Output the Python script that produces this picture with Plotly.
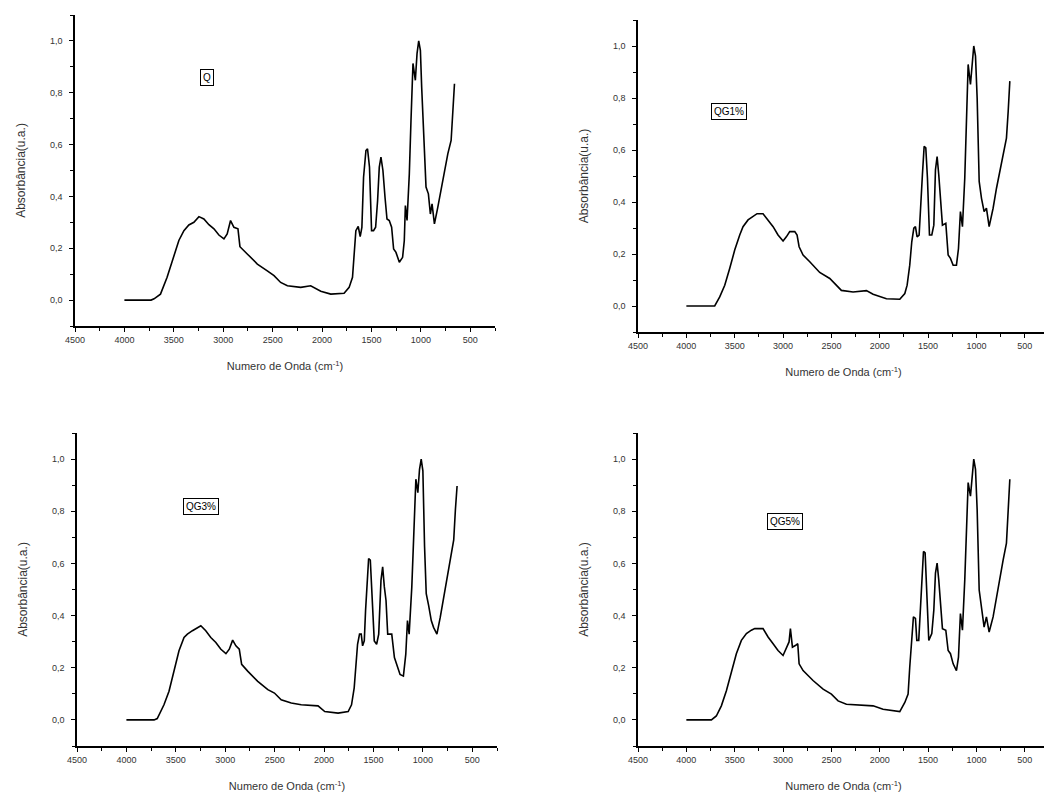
import plotly.graph_objects as go

# ---------------- data ----------------
x_ticks = [4500, 4000, 3500, 3000, 2500, 2000, 1500, 1000, 500]
x_ticktext = ["4500", "4000", "3500", "3000", "2500", "2000", "1500", "1000", "500"]
y_ticks = [0.0, 0.2, 0.4, 0.6, 0.8, 1.0]
y_ticktext = ["0,0", "0,2", "0,4", "0,6", "0,8", "1,0"]

labels = ["Q", "QG1%", "QG3%", "QG5%"]

wn_q = [4000, 3730, 3700, 3635, 3568, 3500, 3449, 3398, 3348, 3297, 3246, 3196, 3145, 3094, 3044,
        2993, 2960, 2926, 2892, 2851, 2831, 2757, 2655, 2554, 2486, 2419, 2351, 2216, 2115, 2013,
        1912, 1777, 1726, 1692, 1675, 1658, 1634, 1614, 1597, 1580, 1556, 1540, 1520, 1499, 1479,
        1458, 1438, 1421, 1404, 1384, 1363, 1343, 1320, 1296, 1276, 1252, 1218, 1185, 1168, 1157,
        1140, 1117, 1100, 1080, 1056, 1039, 1022, 1005, 992, 971, 948, 924, 904, 887, 863,
        829, 795, 761, 727, 694, 677, 660]
abs_q = [0, 0, 0.005, 0.023, 0.088, 0.165, 0.23, 0.268, 0.29, 0.30, 0.322, 0.313, 0.291, 0.275, 0.251,
         0.236, 0.255, 0.307, 0.281, 0.275, 0.206, 0.178, 0.139, 0.113, 0.094, 0.068, 0.055, 0.049, 0.055, 0.034,
         0.023, 0.026, 0.049, 0.088, 0.178, 0.268, 0.284, 0.245, 0.28, 0.474, 0.577, 0.584, 0.513, 0.268, 0.268,
         0.281, 0.384, 0.513, 0.552, 0.50, 0.397, 0.313, 0.307, 0.281, 0.197, 0.184, 0.146, 0.165, 0.229, 0.365,
         0.307, 0.487, 0.694, 0.913, 0.848, 0.951, 1.0, 0.964, 0.822, 0.642, 0.436, 0.41, 0.332, 0.371, 0.294,
         0.358, 0.429, 0.50, 0.565, 0.616, 0.732, 0.835]

wn_g1 = [4000, 3707, 3655, 3603, 3552, 3500, 3448, 3414, 3362, 3310, 3269, 3207, 3155, 3103, 3052,
         3000, 2966, 2931, 2879, 2855, 2834, 2793, 2724, 2621, 2517, 2466, 2397, 2276, 2138, 2069,
         1931, 1793, 1741, 1717, 1690, 1669, 1648, 1631, 1614, 1593, 1576, 1559, 1541, 1524, 1507,
         1486, 1462, 1441, 1424, 1407, 1390, 1372, 1352, 1317, 1293, 1269, 1241, 1207, 1186, 1166,
         1145, 1121, 1103, 1086, 1062, 1045, 1028, 1010, 993, 972, 948, 921, 897, 869, 828,
         793, 759, 724, 690, 672, 655]
abs_g1 = [0, 0, 0.035, 0.08, 0.144, 0.215, 0.273, 0.305, 0.331, 0.344, 0.355, 0.355, 0.331, 0.305, 0.273,
          0.25, 0.266, 0.286, 0.286, 0.273, 0.228, 0.196, 0.17, 0.129, 0.106, 0.086, 0.06, 0.054, 0.059, 0.045,
          0.028, 0.026, 0.048, 0.08, 0.157, 0.247, 0.299, 0.305, 0.266, 0.273, 0.369, 0.505, 0.614, 0.608, 0.492,
          0.273, 0.273, 0.311, 0.524, 0.575, 0.505, 0.414, 0.311, 0.318, 0.196, 0.183, 0.157, 0.157, 0.221, 0.363,
          0.305, 0.492, 0.71, 0.929, 0.852, 0.948, 1.0, 0.961, 0.80, 0.479, 0.414, 0.363, 0.376, 0.305, 0.376,
          0.453, 0.517, 0.582, 0.646, 0.749, 0.865]

wn_g3 = [4000, 3720, 3688, 3620, 3569, 3519, 3468, 3417, 3383, 3332, 3281, 3247, 3197, 3146, 3095,
         3044, 2993, 2959, 2925, 2892, 2858, 2834, 2773, 2671, 2569, 2502, 2434, 2332, 2231, 2061,
         1993, 1858, 1756, 1722, 1695, 1678, 1661, 1641, 1624, 1610, 1593, 1580, 1563, 1549, 1532,
         1512, 1492, 1468, 1447, 1424, 1407, 1390, 1373, 1356, 1315, 1288, 1264, 1231, 1197, 1173,
         1156, 1139, 1112, 1092, 1071, 1051, 1034, 1017, 1000, 983, 966, 942, 915, 892, 858,
         824, 790, 756, 722, 688, 671, 654]
abs_g3 = [0, 0, 0.005, 0.058, 0.11, 0.187, 0.265, 0.316, 0.329, 0.342, 0.355, 0.361, 0.342, 0.316, 0.297,
          0.271, 0.254, 0.271, 0.306, 0.284, 0.271, 0.213, 0.187, 0.148, 0.116, 0.103, 0.077, 0.065, 0.058, 0.054,
          0.032, 0.026, 0.032, 0.058, 0.123, 0.2, 0.29, 0.329, 0.329, 0.284, 0.303, 0.419, 0.548, 0.619, 0.613,
          0.458, 0.303, 0.29, 0.329, 0.535, 0.587, 0.51, 0.458, 0.329, 0.329, 0.239, 0.213, 0.174, 0.168, 0.252,
          0.381, 0.329, 0.51, 0.742, 0.923, 0.871, 0.961, 1.0, 0.955, 0.665, 0.484, 0.439, 0.381, 0.355, 0.329,
          0.394, 0.471, 0.548, 0.626, 0.69, 0.806, 0.897]

wn_g5 = [4000, 3741, 3690, 3638, 3586, 3534, 3483, 3431, 3379, 3328, 3293, 3207, 3155, 3103, 3052,
         3000, 2966, 2938, 2924, 2903, 2869, 2848, 2834, 2793, 2690, 2586, 2500, 2431, 2345, 2172,
         2069, 1966, 1793, 1741, 1707, 1690, 1669, 1652, 1631, 1617, 1597, 1583, 1566, 1548, 1531,
         1514, 1493, 1462, 1441, 1424, 1407, 1390, 1369, 1352, 1317, 1293, 1269, 1241, 1207, 1186,
         1166, 1145, 1121, 1103, 1086, 1062, 1045, 1028, 1010, 993, 972, 948, 921, 897, 869,
         828, 793, 759, 724, 690, 672, 655]
abs_g5 = [0, 0, 0.015, 0.054, 0.112, 0.183, 0.254, 0.305, 0.331, 0.344, 0.35, 0.35, 0.318, 0.292, 0.266,
          0.247, 0.279, 0.299, 0.35, 0.279, 0.286, 0.292, 0.215, 0.189, 0.151, 0.118, 0.099, 0.073, 0.06, 0.058,
          0.054, 0.041, 0.032, 0.067, 0.099, 0.202, 0.305, 0.395, 0.389, 0.305, 0.305, 0.395, 0.55, 0.646, 0.64,
          0.485, 0.305, 0.331, 0.421, 0.563, 0.601, 0.537, 0.434, 0.35, 0.344, 0.266, 0.254, 0.215, 0.189, 0.241,
          0.408, 0.344, 0.537, 0.743, 0.91, 0.858, 0.948, 1.0, 0.961, 0.807, 0.498, 0.434, 0.356, 0.395, 0.337,
          0.395, 0.472, 0.537, 0.614, 0.678, 0.807, 0.923]

# label box positions (data coords of each panel)
label_x = [3160, 3560, 3250, 2985]
label_y = [0.86, 0.75, 0.818, 0.76]

series = [(wn_q, abs_q), (wn_g1, abs_g1), (wn_g3, abs_g3), (wn_g5, abs_g5)]
for w, a in series:
    assert len(w) == len(a), (len(w), len(a))

# ---------------- layout ----------------
# the page body has an 8 px margin, so the figure is drawn 8 px in from the window corner
OFF = 8
W, H = 1052 - OFF, 795 - OFF
# page-pixel boxes of each plot area: (left, right, top, bottom)
boxes = [(75, 495, 15, 326), (638, 1049, 20, 332), (77, 497, 433, 746), (638, 1049, 433, 746)]

FONT = "Liberation Sans, Arial, sans-serif"
fig = go.Figure()
layout = dict(
    width=W, height=H,
    margin=dict(l=0, r=0, t=0, b=0, autoexpand=False),
    paper_bgcolor="white", plot_bgcolor="white",
    showlegend=False,
    font=dict(family=FONT, color="#222"),
)
annotations = []
for i, ((w, a), (l, r, t, b)) in enumerate(zip(series, boxes)):
    n = "" if i == 0 else str(i + 1)
    l, r, t, b = l - OFF, r - OFF, t - OFF, b - OFF
    fig.add_trace(go.Scatter(x=w, y=a, mode="lines", line=dict(color="black", width=1.6),
                             xaxis="x" + n, yaxis="y" + n, hoverinfo="skip"))
    layout["xaxis" + n] = dict(
        domain=[l / W, r / W], anchor="y" + n, range=[4500, 250], automargin=False,
        showline=True, linecolor="black", linewidth=1.5,
        showgrid=False, zeroline=False,
        ticks="outside", ticklen=4, tickwidth=1.2, tickcolor="black",
        tickvals=x_ticks, ticktext=x_ticktext,
        tickfont=dict(size=9, color="#333", family=FONT),
        minor=dict(tickvals=[4250, 3750, 3250, 2750, 2250, 1750, 1250, 750, 250],
                   ticks="outside", ticklen=3, tickwidth=1.2, tickcolor="black"),
        title=dict(text="Numero de Onda (cm<sup>-1</sup>)", font=dict(size=11, color="#333", family=FONT),
                   standoff=19),
    )
    layout["yaxis" + n] = dict(
        domain=[1 - b / H, 1 - t / H], anchor="x" + n, range=[-0.1, 1.1], automargin=False,
        showline=True, linecolor="black", linewidth=1.5,
        showgrid=False, zeroline=False,
        ticks="outside", ticklen=4, tickwidth=1.2, tickcolor="black",
        tickvals=y_ticks, ticktext=y_ticktext,
        tickfont=dict(size=9, color="#333", family=FONT),
        ticklabelstandoff=5,
        minor=dict(tickvals=[-0.1, 0.1, 0.3, 0.5, 0.7, 0.9, 1.1],
                   ticks="outside", ticklen=3, tickwidth=1.2, tickcolor="black"),
        title=dict(text="Absorbância(u.a.)", font=dict(size=12, color="#333", family=FONT),
                   standoff=22),
    )
    annotations.append(dict(
        x=label_x[i], y=label_y[i], xref="x" + n, yref="y" + n,
        text=labels[i], showarrow=False,
        font=dict(size=10, color="black", family=FONT),
        bordercolor="black", borderwidth=1, borderpad=2, bgcolor="white",
    ))
layout["annotations"] = annotations
fig.update_layout(**layout)
fig.write_html("out.html")
